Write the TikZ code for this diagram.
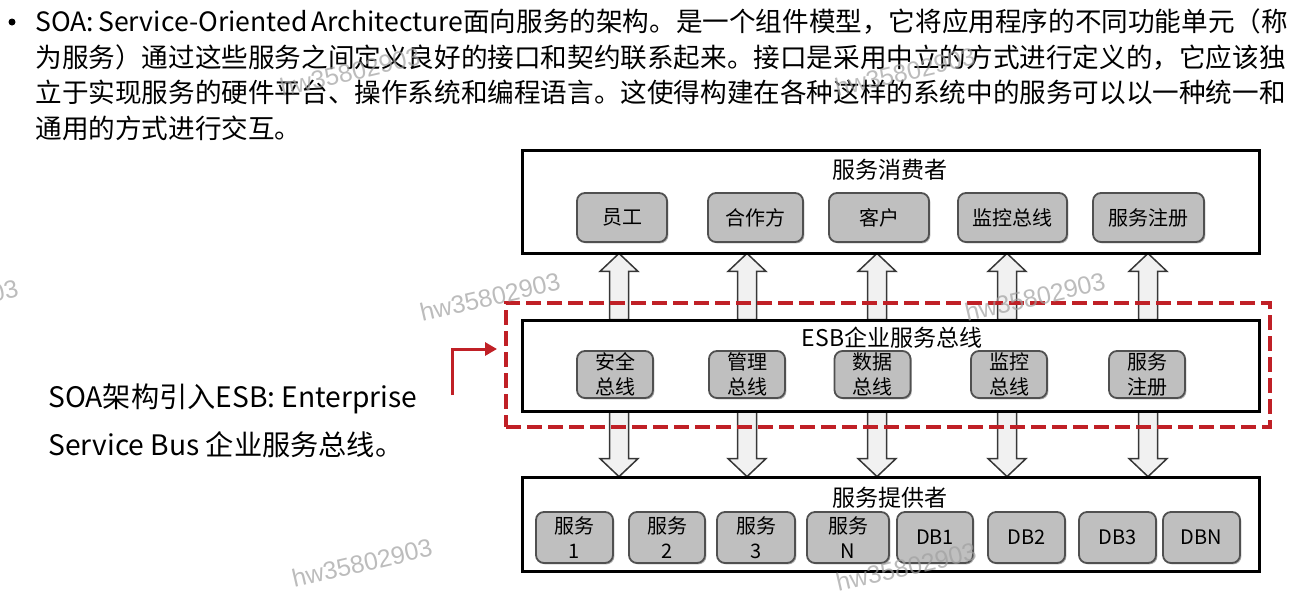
\documentclass[tikz,border=0pt]{standalone}
\usepackage{fontspec}
\setmainfont{Noto Sans CJK SC}
\newfontfamily\wmfont{Liberation Sans}
\usetikzlibrary{calc,shadows,arrows.meta}
\definecolor{boxgray}{RGB}{191,191,191}
\definecolor{boxedge}{RGB}{80,80,80}
\definecolor{arrfill}{RGB}{241,241,241}
\definecolor{arredge}{RGB}{55,55,55}
\definecolor{esbred}{RGB}{192,32,38}
\definecolor{wmgray}{RGB}{160,160,160}
\newcommand\blockarrow[2]{%
  \draw[arrowshape] let \p1=(#1), \p2=(#2),
    \n1={ifthenelse(\y2>\y1,1,-1)}, \n2={\y2-\n1*9} in
    ({\x1-4.75pt},\y1) -- ({\x1-4.75pt},{\n2*1pt}) -- ({\x1-9.5pt},{\n2*1pt})
    -- (\x1,\y2) -- ({\x1+9.5pt},{\n2*1pt}) -- ({\x1+4.75pt},{\n2*1pt})
    -- ({\x1+4.75pt},\y1) -- cycle;}
\begin{document}
\begin{tikzpicture}[x=0.5pt,y=-0.5pt,
  bodytext/.style={anchor=base west, inner sep=0pt, font=\fontsize{13.3}{16}\selectfont},
  lefttext/.style={anchor=base west, inner sep=0pt, font=\fontsize{14.1}{16}\selectfont},
  layerbox/.style={draw=black, line width=1.5pt, fill=white, inner sep=0pt},
  layertitle/.style={inner sep=0pt, font=\fontsize{11.5}{13}\selectfont},
  item/.style={draw=boxedge, line width=0.9pt, fill=boxgray, rounded corners=4pt,
    inner sep=0pt, align=center, font=\fontsize{10}{12.5}\selectfont,
    drop shadow={shadow xshift=0.7pt, shadow yshift=-0.7pt, opacity=0.3, fill=black}},
  arrowshape/.style={draw=arredge, line width=0.75pt, fill=arrfill, line join=miter},
  redbox/.style={draw=esbred, line width=2pt, dash pattern=on 7.5pt off 3pt},
  redarrow/.style={draw=esbred, line width=1.5pt, -{Triangle[length=6pt,width=6.5pt]}},
  watermark/.style={text=wmgray, opacity=0.7, rotate=13, inner sep=0pt,
    font=\wmfont\fontsize{12.5}{12.5}\selectfont}
]
\useasboundingbox (0,0) rectangle (1316,590);

% ---- top paragraph ----
\fill (12,22) circle[radius=3.5];
\node[bodytext] (l1) at (35,31.5) {\makebox[625pt][s]{SOA: Service-Oriented Architecture面向服务的架构。是一个组件模型，它将应用程序的不同功能单元（称}};
\node[bodytext] (l2) at (35,67) {为服务）通过这些服务之间定义良好的接口和契约联系起来。接口是采用中立的方式进行定义的，它应该独};
\node[bodytext] (l3) at (35,102.5) {立于实现服务的硬件平台、操作系统和编程语言。这使得构建在各种这样的系统中的服务可以以一种统一和};
\node[bodytext] (l4) at (35,138) {通用的方式进行交互。};

% ---- left note ----
\node[lefttext] (n1) at (48,407) {SOA架构引入ESB: Enterprise};
\node[lefttext] (n2) at (48,455) {Service Bus 企业服务总线。};

% ---- layer frames (positions) ----
\path (890.5,201.5) node[minimum width=368.5pt, minimum height=51.5pt, inner sep=0pt] (cons) {};
\path (890.5,365.5) node[minimum width=368.5pt, minimum height=45.5pt, inner sep=0pt] (esb) {};
\path (890.5,524) node[minimum width=368.5pt, minimum height=47pt, inner sep=0pt] (prov) {};

% ---- block arrows ----
\foreach \i/\x in {1/619,2/747,3/877,4/1007,5/1148}{
  \coordinate (ub\i) at (\x,0 |- esb.north);
  \coordinate (ut\i) at (\x,0 |- cons.south);
  \coordinate (db\i) at (\x,0 |- esb.south);
  \coordinate (dt\i) at (\x,0 |- prov.north);
  \blockarrow{ub\i}{ut\i}
  \blockarrow{db\i}{dt\i}
}

% ---- layer boxes ----
\node[layerbox, minimum width=368.5pt, minimum height=51.5pt] (consbox) at (cons) {};
\node[layerbox, minimum width=368.5pt, minimum height=45.5pt] (esbbox) at (esb) {};
\node[layerbox, minimum width=368.5pt, minimum height=47pt] (provbox) at (prov) {};

\node[layertitle] (constitle) at (890,170) {服务消费者};
\node[layertitle] (esbtitle) at (892,338) {ESB企业服务总线};
\node[layertitle] (provtitle) at (889.5,498) {服务提供者};

% consumer items
\node[item, minimum width=45pt, minimum height=24.5pt] (c1) at (622,217.5) {员工};
\node[item, minimum width=47.5pt, minimum height=24.5pt] (c2) at (755.5,217.5) {合作方};
\node[item, minimum width=50pt, minimum height=24.5pt] (c3) at (879,217.5) {客户};
\node[item, minimum width=54.5pt, minimum height=24.5pt] (c4) at (1012.5,217.5) {监控总线};
\node[item, minimum width=55.5pt, minimum height=24.5pt] (c5) at (1148.5,217.5) {服务注册};

% ESB items
\node[item, minimum width=38pt, minimum height=23.5pt] (e1) at (615,374.5) {安全\\总线};
\node[item, minimum width=38pt, minimum height=23.5pt] (e2) at (747,374.5) {管理\\总线};
\node[item, minimum width=38pt, minimum height=23.5pt] (e3) at (872.5,374.5) {数据\\总线};
\node[item, minimum width=38pt, minimum height=23.5pt] (e4) at (1009,374.5) {监控\\总线};
\node[item, minimum width=38pt, minimum height=23.5pt] (e5) at (1147,374.5) {服务\\注册};

% provider items
\node[item, minimum width=38.5pt, minimum height=25.5pt] (p1) at (574.5,537.5) {服务\\1};
\node[item, minimum width=38pt, minimum height=25.5pt] (p2) at (667,537.5) {服务\\2};
\node[item, minimum width=39pt, minimum height=25.5pt] (p3) at (756,537.5) {服务\\3};
\node[item, minimum width=41pt, minimum height=25.5pt] (p4) at (848,537.5) {服务\\N};
\node[item, minimum width=38pt, minimum height=25.5pt] (p5) at (935,537.5) {DB1};
\node[item, minimum width=38.5pt, minimum height=25.5pt] (p6) at (1026.5,537.5) {DB2};
\node[item, minimum width=38.5pt, minimum height=25.5pt] (p7) at (1117.5,537.5) {DB3};
\node[item, minimum width=38.5pt, minimum height=25.5pt] (p8) at (1201.5,537.5) {DBN};

% ---- red ESB highlight ----
\node[redbox, minimum width=382pt, minimum height=62pt, inner sep=0pt] (esbmark) at (888,365) {};
\coordinate (elb0) at (452,395);
\coordinate (elb1) at (497,349);
\draw[redarrow] (elb0) |- (elb1);

% ---- watermarks ----
\node[watermark] (w1) at (350,72) {hw35802903};
\node[watermark] (w2) at (905,72) {hw35802903};
\node[watermark] (w3) at (-52,304) {hw35802903};
\node[watermark] (w4) at (490,297) {hw35802903};
\node[watermark] (w5) at (1035,297) {hw35802903};
\node[watermark] (w6) at (362,563) {hw35802903};
\node[watermark] (w7) at (906,567) {hw35802903};
\end{tikzpicture}
\end{document}
